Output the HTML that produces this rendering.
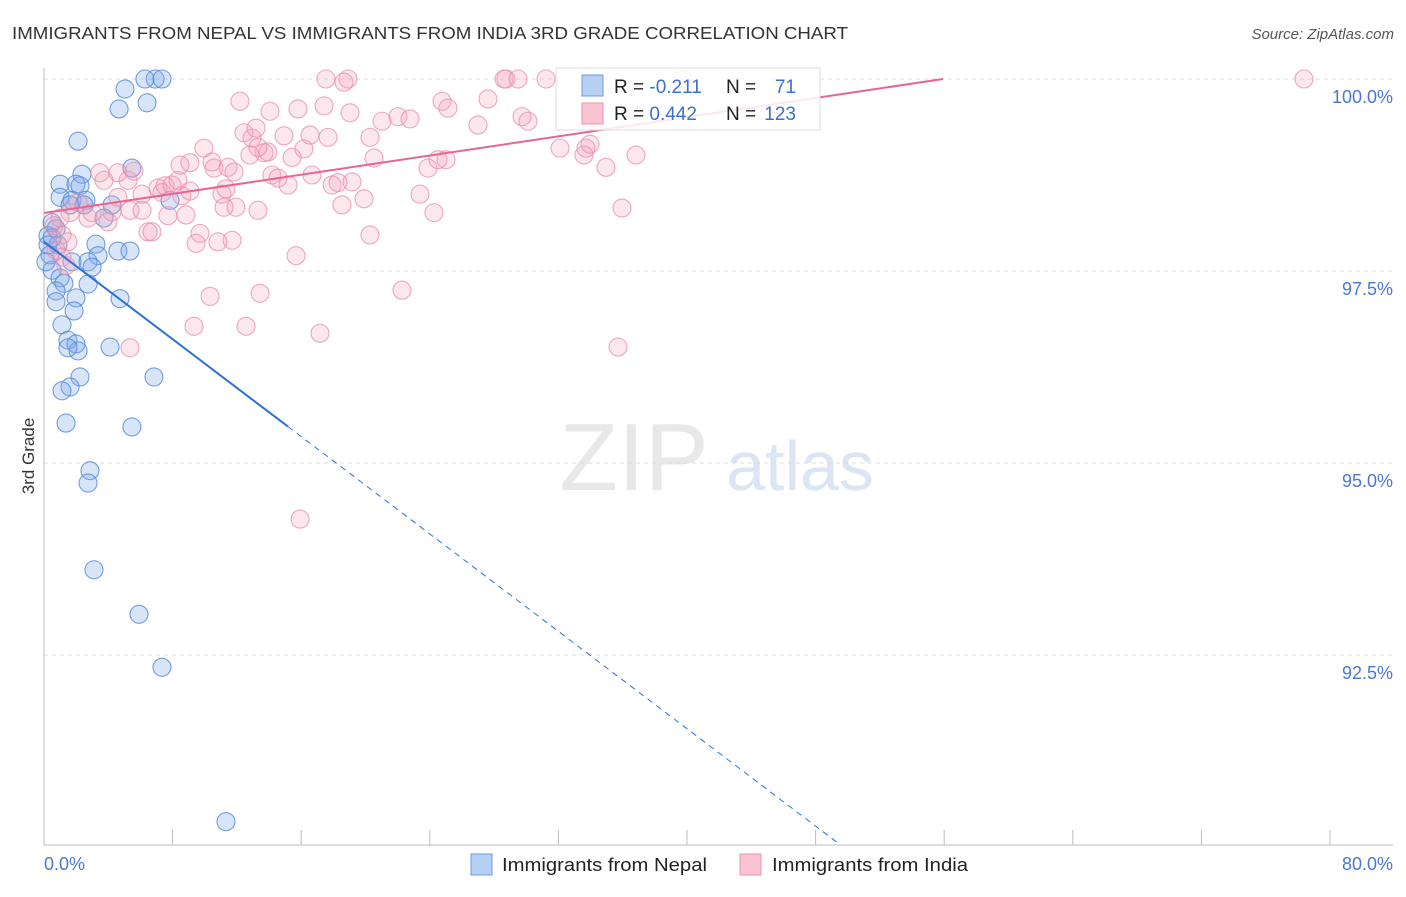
<!DOCTYPE html>
<html><head><meta charset="utf-8"><style>
html,body{margin:0;padding:0;background:#fff;}
body{width:1406px;height:892px;overflow:hidden;font-family:"Liberation Sans",sans-serif;}
svg text{font-family:"Liberation Sans",sans-serif;}
</style></head><body>
<svg id="chart" width="1406" height="892" viewBox="0 0 1406 892" xmlns="http://www.w3.org/2000/svg">
<text x="12" y="39" font-size="17.5" fill="#333" textLength="836" lengthAdjust="spacingAndGlyphs">IMMIGRANTS FROM NEPAL VS IMMIGRANTS FROM INDIA 3RD GRADE CORRELATION CHART</text>
<text x="1394" y="39" font-size="15" fill="#555" text-anchor="end" font-style="italic">Source: ZipAtlas.com</text>
<text transform="translate(34,456) rotate(-90)" font-size="17" fill="#333" text-anchor="middle">3rd Grade</text>
<g>
<text x="634" y="490" font-size="96" fill="#e8e8e8" text-anchor="middle" font-family="Liberation Serif, serif">ZIP</text>
<text x="800" y="490" font-size="70" fill="#dbe5f3" text-anchor="middle">atlas</text>
</g>
<g id="grid"></g><g id="axes"></g><g id="pts"></g><g id="trend"></g>
<g>
<rect x="556" y="68" width="264" height="62" fill="#fff" fill-opacity="0.85" stroke="#ddd"/>
<rect x="582" y="75" width="21" height="21" fill="#b6d0f4" stroke="#6b9be0"/>
<rect x="582" y="103" width="21" height="21" fill="#f9c3d2" stroke="#ec93ad"/>
<text x="614" y="93" font-size="19" fill="#222">R = <tspan fill="#3b6fd0">-0.211</tspan></text>
<text x="726" y="93" font-size="19" fill="#222">N =</text>
<text x="796" y="93" font-size="19" fill="#3b6fd0" text-anchor="end">71</text>
<text x="614" y="120" font-size="19" fill="#222">R = <tspan fill="#3b6fd0">0.442</tspan></text>
<text x="726" y="120" font-size="19" fill="#222">N =</text>
<text x="796" y="120" font-size="19" fill="#3b6fd0" text-anchor="end">123</text>
</g>
<g>
<rect x="471" y="854" width="21" height="21" fill="#b6d0f4" stroke="#6b9be0"/>
<text x="502" y="871" font-size="18" fill="#222" textLength="205" lengthAdjust="spacingAndGlyphs">Immigrants from Nepal</text>
<rect x="740" y="854" width="21" height="21" fill="#f9c3d2" stroke="#ec93ad"/>
<text x="772" y="871" font-size="18" fill="#222" textLength="196" lengthAdjust="spacingAndGlyphs">Immigrants from India</text>
</g>
</svg>
<script>
const yTicks=[100,97.5,95,92.5];
const yTickLabels=["100.0%","97.5%","95.0%","92.5%"];
const xTicks=[0,8,16,24,32,40,48,56,64,72,80];
const xEndLabels=["0.0%","80.0%"];
const nepalX=[6.91,6.28,7.34,5.04,4.67,6.41,2.12,2.36,1.0,1.99,1.0,2.24,1.74,2.61,4.23,7.84,5.47,0.5,0.75,0.25,0.87,3.23,4.6,5.35,3.36,1.74,2.74,2.99,0.5,1.0,1.24,2.74,0.75,1.99,0.75,4.73,1.87,1.12,1.49,1.99,2.12,1.49,4.11,2.24,6.84,1.62,1.12,1.37,5.47,2.86,2.74,3.11,5.91,7.34,11.32,0.25,0.37,0.12,0.5,2.49,1.62,3.73];
const nepalY=[100,100,100,99.87,99.61,99.69,99.19,98.76,98.63,98.63,98.46,98.61,98.42,98.42,98.36,98.42,98.84,98.13,98.05,97.96,97.84,97.85,97.76,97.76,97.70,97.62,97.62,97.55,97.51,97.41,97.34,97.33,97.24,97.15,97.10,97.14,96.98,96.80,96.60,96.55,96.46,96.50,96.51,96.12,96.12,95.99,95.94,95.52,95.47,94.90,94.74,93.61,93.03,92.34,90.33,97.84,97.71,97.62,97.93,98.36,98.36,98.19];
const indiaX=[2.12,1.62,1.0,2.74,2.99,0.62,1.12,1.49,0.75,1.12,1.37,3.48,3.73,4.6,5.23,5.6,4.6,4.23,3.98,5.35,6.1,6.1,6.47,6.72,5.35,7.09,7.34,7.53,7.96,8.34,8.58,7.71,8.83,8.46,9.08,9.7,9.46,9.95,10.45,10.58,11.07,11.45,11.2,11.94,11.7,10.82,10.33,9.33,12.57,12.19,12.44,12.94,13.19,13.69,13.31,13.44,14.06,14.18,14.56,15.18,14.93,15.43,15.8,16.17,16.55,16.67,15.68,15.93,17.17,17.42,17.54,17.67,17.92,18.29,18.91,18.66,19.04,18.54,19.16,19.91,20.28,20.28,20.53,21.03,22.02,22.77,22.27,23.39,23.89,24.51,25.01,24.26,24.76,25.13,27.0,27.62,28.74,28.62,29.49,29.74,30.11,31.23,32.1,33.59,33.72,33.97,34.96,35.71,35.96,36.83,39.69,78.38,13.93,13.31,11.82,11.32,9.08,12.81];
const indiaY=[98.39,98.26,98.19,98.19,98.26,98.09,97.97,97.88,97.77,97.68,97.57,98.78,98.68,98.78,98.68,98.80,98.46,98.27,98.14,98.29,98.29,98.50,98.01,98.01,96.50,98.58,98.52,98.61,98.62,98.68,98.48,98.22,98.23,98.88,98.91,97.99,97.86,99.10,98.92,98.84,98.50,98.85,98.33,98.33,97.90,97.88,97.17,96.78,96.78,99.71,99.30,99.23,99.36,99.04,98.29,97.21,99.58,98.75,98.71,98.62,99.26,98.98,99.61,99.09,99.27,98.75,97.70,94.27,96.69,99.65,100,99.24,98.62,98.65,100,99.96,99.56,98.36,98.66,98.44,97.97,99.24,98.97,99.45,99.51,99.48,97.25,98.50,98.84,98.95,98.95,98.26,99.71,99.62,99.40,99.74,100,100,100,99.51,99.45,100,99.10,99.01,99.10,99.15,98.85,96.51,98.32,99.01,100,100,99.05,99.11,98.79,98.57,98.54,99.01];
const nepalTrend=[97.88,-0.1585]; // intercept, slope
const indiaTrend=[98.255,0.0312];

const NS="http://www.w3.org/2000/svg";
const xs=v=>44+v*16.075;
const ys=v=>79+(100-v)*76.8;
function mk(tag,attrs,parent){const e=document.createElementNS(NS,tag);for(const k in attrs)e.setAttribute(k,attrs[k]);parent.appendChild(e);return e;}
const grid=document.getElementById('grid'),axes=document.getElementById('axes'),pts=document.getElementById('pts'),trend=document.getElementById('trend');
yTicks.forEach((t,i)=>{
  const l=mk('line',{x1:44,x2:1393,y1:ys(t),y2:ys(t),stroke:'#ddd','stroke-dasharray':'4,4'},grid);
  
  
  const tx=mk('text',{x:1393,y:ys(t)+24,'font-size':18,fill:'#4a78d0','text-anchor':'end'},axes);
  tx.textContent=yTickLabels[i];
  
  
});
const ax=mk('line',{x1:44,x2:44,y1:68,y2:845,stroke:'#bbb'},axes);


const bx=mk('line',{x1:44,x2:1393,y1:845,y2:845,stroke:'#bbb'},axes);


xTicks.forEach(t=>{
  const l=mk('line',{x1:xs(t),x2:xs(t),y1:830,y2:845,stroke:'#bbb'},axes);
  
  
});
const xl0=mk('text',{x:44,y:870,'font-size':18,fill:'#4a78d0'},axes);xl0.textContent=xEndLabels[0];


const xl1=mk('text',{x:1393,y:870,'font-size':18,fill:'#4a78d0','text-anchor':'end'},axes);xl1.textContent=xEndLabels[1];



nepalX.forEach((x,i)=>{
  const c=mk('circle',{cx:xs(x),cy:ys(nepalY[i]),r:9,fill:'rgba(125,170,235,0.3)',stroke:'rgba(80,135,215,0.8)','stroke-width':1.1},pts);
  
  
});
indiaX.forEach((x,i)=>{
  const c=mk('circle',{cx:xs(x),cy:ys(indiaY[i]),r:9,fill:'rgba(245,160,185,0.25)',stroke:'rgba(232,140,170,0.75)','stroke-width':1.1},pts);
  
  
});
const nf=x=>nepalTrend[0]+nepalTrend[1]*x;
const t1=mk('line',{x1:xs(0),y1:ys(nf(0)),x2:xs(15.18),y2:ys(nf(15.18)),stroke:'#2a72d6','stroke-width':2},trend);


const xe=(90.03-nepalTrend[0])/nepalTrend[1];
const t2=mk('line',{x1:xs(15.18),y1:ys(nf(15.18)),x2:xs(xe),y2:ys(nf(xe)),stroke:'#2a72d6','stroke-width':1,'stroke-dasharray':'6,5'},trend);


const xi=(100-indiaTrend[0])/indiaTrend[1];
const t3=mk('line',{x1:xs(0),y1:ys(indiaTrend[0]),x2:xs(xi),y2:ys(100),stroke:'#e8658f','stroke-width':2},trend);


</script>
</body></html>
